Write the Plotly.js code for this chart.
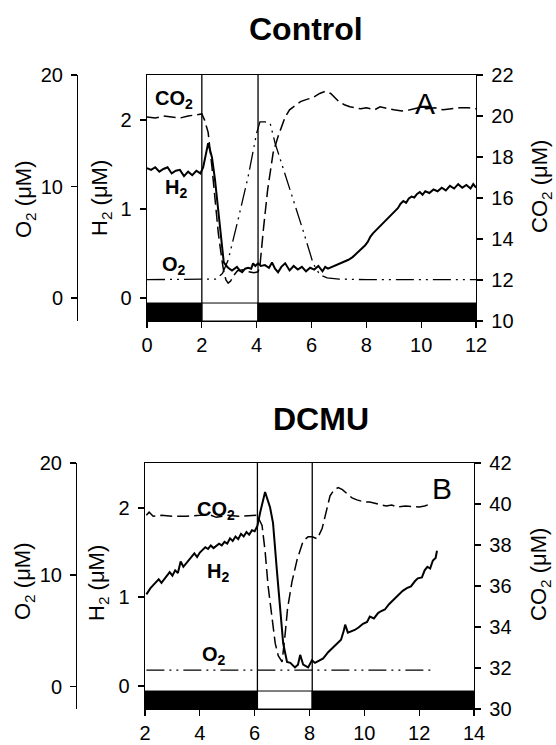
<!DOCTYPE html>
<html><head><meta charset="utf-8">
<script src="https://cdn.plot.ly/plotly-3.0.1.min.js"></script>
<style>html,body{margin:0;padding:0;background:#fff}#chart{width:556px;height:745px}</style>
</head><body><div id="chart"></div>
<script>
// ---------- Panel A (Control) ----------
const topH2X = [0,0.15,0.3,0.45,0.6,0.75,0.9,1.05,1.2,1.35,1.5,1.65,1.8,1.95,2.05,2.15,2.23,2.3,2.37,2.48,2.6,2.73,2.8,2.9,2.96,3.1,3.2,3.28,3.38,3.47,3.58,3.69,3.8,3.87,3.95,4.05,4.15,4.3,4.45,4.56,4.67,4.78,4.9,5.04,5.2,5.35,5.5,5.65,5.8,5.95,6.1,6.25,6.4,6.5,6.6,6.75,6.9,7.05,7.2,7.35,7.5,7.65,7.8,7.95,8.05,8.15,8.25,8.35,8.45,8.55,8.65,8.75,8.85,8.95,9.05,9.15,9.25,9.35,9.45,9.55,9.65,9.75,9.85,9.95,10.05,10.15,10.3,10.45,10.6,10.75,10.9,11.05,11.2,11.35,11.5,11.65,11.8,11.9,12.0];
const topH2 = [1.46,1.44,1.47,1.42,1.45,1.47,1.40,1.43,1.44,1.37,1.42,1.38,1.43,1.40,1.47,1.62,1.74,1.66,1.58,1.33,0.95,0.57,0.40,0.36,0.34,0.31,0.33,0.35,0.31,0.29,0.33,0.34,0.33,0.39,0.36,0.39,0.36,0.37,0.34,0.40,0.33,0.29,0.35,0.39,0.31,0.36,0.32,0.35,0.30,0.34,0.32,0.36,0.30,0.35,0.33,0.35,0.37,0.39,0.41,0.43,0.46,0.50,0.54,0.59,0.63,0.69,0.73,0.76,0.79,0.83,0.86,0.88,0.92,0.95,0.98,1.01,1.06,1.09,1.07,1.12,1.14,1.13,1.17,1.19,1.16,1.20,1.18,1.22,1.20,1.24,1.21,1.26,1.23,1.28,1.24,1.27,1.23,1.28,1.24];

const topCO2X = [0,0.3,0.6,0.9,1.2,1.5,1.8,2.0,2.1,2.23,2.37,2.48,2.6,2.73,2.8,2.88,2.96,3.05,3.15,3.3,3.5,3.7,3.9,4.05,4.12,4.24,4.4,4.6,4.78,5.04,5.2,5.4,5.6,5.8,6.06,6.3,6.5,6.7,6.86,7.0,7.2,7.4,7.6,7.8,8.0,8.3,8.5,8.8,9.0,9.3,9.6,9.9,10.2,10.5,10.8,11.1,11.4,11.7,12.0];
const topCO2 = [19.95,19.9,20.0,19.95,19.9,20.0,20.05,20.1,19.8,19.2,17.5,15.9,14.3,13.0,12.4,12.0,11.85,11.95,12.2,12.45,12.5,12.4,12.35,12.4,12.7,14.4,16.4,18.2,19.0,19.95,20.3,20.5,20.7,20.8,20.9,21.1,21.2,21.1,20.9,20.7,20.55,20.45,20.4,20.35,20.4,20.3,20.45,20.35,20.3,20.25,20.3,20.4,20.35,20.4,20.3,20.35,20.4,20.4,20.35];

const topO2X = [0,1.0,2.0,2.5,2.75,2.96,3.32,3.69,4.0,4.12,4.3,4.49,4.67,4.96,5.3,5.7,6.06,6.3,6.57,7.0,8.0,9.0,10.0,11.0,12.0];
const topO2 = [1.65,1.65,1.65,1.7,2.2,3.4,7.0,10.9,14.8,15.8,15.8,15.7,13.9,11.7,9.0,6.0,3.1,2.1,1.8,1.7,1.65,1.65,1.65,1.65,1.65];

const topPeriodStart = [0, 2, 4.05];
const topPeriodEnd   = [2, 4.05, 12];
const topPeriodDark  = [true, false, true];

// ---------- Panel B (DCMU) ----------
const botH2X = [2.05,2.2,2.35,2.5,2.6,2.75,2.9,3.0,3.1,3.2,3.3,3.4,3.5,3.6,3.7,3.8,3.9,4.0,4.1,4.2,4.3,4.4,4.5,4.6,4.7,4.8,4.9,5.0,5.1,5.2,5.3,5.4,5.5,5.6,5.7,5.8,5.9,6.0,6.1,6.2,6.38,6.56,6.67,6.81,6.93,7.04,7.18,7.3,7.47,7.58,7.66,7.77,7.95,8.09,8.2,8.35,8.5,8.68,8.85,9.0,9.15,9.25,9.3,9.4,9.5,9.65,9.8,9.95,10.1,10.2,10.35,10.5,10.6,10.75,10.9,11.0,11.15,11.3,11.4,11.55,11.7,11.85,11.95,12.1,12.2,12.3,12.4,12.5,12.6,12.65];
const botH2 = [1.03,1.10,1.15,1.20,1.16,1.22,1.28,1.24,1.30,1.27,1.40,1.34,1.38,1.42,1.46,1.49,1.45,1.50,1.53,1.56,1.54,1.58,1.55,1.57,1.60,1.58,1.62,1.60,1.66,1.63,1.68,1.65,1.71,1.68,1.73,1.70,1.75,1.74,1.80,1.95,2.18,2.01,1.83,1.30,0.85,0.48,0.27,0.26,0.21,0.24,0.35,0.24,0.21,0.29,0.26,0.29,0.31,0.38,0.43,0.48,0.52,0.62,0.69,0.60,0.61,0.63,0.66,0.70,0.72,0.78,0.76,0.82,0.84,0.86,0.92,0.95,0.99,1.03,1.07,1.10,1.12,1.18,1.21,1.22,1.30,1.34,1.32,1.41,1.44,1.52];

const botCO2X = [2.05,2.15,2.3,2.6,3.0,3.5,4.0,4.3,4.6,5.0,5.4,5.8,6.09,6.27,6.38,6.49,6.64,6.75,6.86,7.0,7.1,7.2,7.36,7.55,7.77,7.95,8.1,8.28,8.46,8.6,8.75,8.9,9.05,9.2,9.37,9.55,9.73,10.0,10.2,10.5,10.8,11.0,11.2,11.5,11.8,12.0,12.2,12.4];
const botCO2 = [39.45,39.6,39.4,39.45,39.4,39.4,39.45,39.5,39.35,39.45,39.4,39.45,39.45,38.95,37.7,36.0,34.4,33.2,32.6,32.3,33.5,34.9,36.2,37.3,38.2,38.4,38.4,38.3,38.8,39.6,40.4,40.7,40.8,40.7,40.5,40.3,40.2,40.1,40.1,40.0,39.9,39.95,39.85,39.9,39.85,39.85,39.9,40.0];

const botO2X = [2.05,4.0,6.0,8.0,10.0,12.5];
const botO2 = [1.5,1.5,1.5,1.5,1.5,1.5];

const botPeriodStart = [2, 6.1, 8.1];
const botPeriodEnd   = [6.1, 8.1, 14];
const botPeriodDark  = [true, false, true];

// ---------- styling ----------
const FONT = 'Liberation Sans, Arial, Helvetica, sans-serif';
const TICKSIZE = 20;
const h2Style  = {color:'#000', width:2};
const co2Style = {color:'#000', width:1.5, dash:'12px,5px'};
const o2Style  = {color:'#000', width:1.3, dash:'18px,5px,2px,5px,2px,5px'};

const traces = [
  {x: topH2X, y: topH2, xaxis:'x', yaxis:'y', mode:'lines', line:h2Style, name:'H2'},
  {x: topCO2X, y: topCO2, xaxis:'x', yaxis:'y2', mode:'lines', line:co2Style, name:'CO2'},
  {x: topO2X, y: topO2, xaxis:'x', yaxis:'y3', mode:'lines', line:o2Style, name:'O2'},
  {x: botH2X, y: botH2, xaxis:'x2', yaxis:'y4', mode:'lines', line:h2Style, name:'H2'},
  {x: botCO2X, y: botCO2, xaxis:'x2', yaxis:'y5', mode:'lines', line:co2Style, name:'CO2'},
  {x: botO2X, y: botO2, xaxis:'x2', yaxis:'y6', mode:'lines', line:o2Style, name:'O2'}
];

const axBase = {
  showgrid:false, zeroline:false, showline:true, linecolor:'#000', linewidth:1.3,
  ticks:'outside', ticklen:6, tickwidth:1.2, tickcolor:'#000',
  tickfont:{family:FONT, size:TICKSIZE, color:'#000'}, ticklabelstandoff:4
};
function ax(o){ return Object.assign({}, axBase, o); }

const H2RANGE = [-0.258, 2.506];
const BAR_TOP = -0.056;

const layout = {
  width:556, height:745, margin:{l:0,r:0,t:0,b:0},
  paper_bgcolor:'#fff', plot_bgcolor:'rgba(0,0,0,0)', showlegend:false,
  font:{family:FONT, color:'#000'},
  xaxis: ax({domain:[147/556, 476/556], anchor:'y', range:[0,12], tickvals:[0,2,4,6,8,10,12], mirror:true, ticklabelstandoff:0}),
  yaxis: ax({domain:[1-321/745, 1-75/745], anchor:'x', range:H2RANGE, tickvals:[0,1,2], mirror:true}),
  yaxis2: ax({overlaying:'y', side:'right', anchor:'x', range:[10,22], tickvals:[10,12,14,16,18,20,22]}),
  yaxis3: ax({overlaying:'y', side:'left', anchor:'free', position:77/556, range:[-2.06,20], tickvals:[0,10,20]}),
  xaxis2: ax({domain:[145/556, 474/556], anchor:'y4', range:[2,14], tickvals:[2,4,6,8,10,12,14], mirror:true, ticklabelstandoff:0}),
  yaxis4: ax({domain:[1-709/745, 1-463/745], anchor:'x2', range:H2RANGE, tickvals:[0,1,2], mirror:true}),
  yaxis5: ax({overlaying:'y4', side:'right', anchor:'x2', range:[30,42], tickvals:[30,32,34,36,38,40,42]}),
  yaxis6: ax({overlaying:'y4', side:'left', anchor:'free', position:76/556, range:[-1.98,20], tickvals:[0,10,20]}),
  shapes: [], annotations: []
};

function addPeriods(starts, ends, dark, xr, yr){
  for (let i=0;i<starts.length;i++){
    layout.shapes.push({type:'rect', xref:xr, yref:yr, x0:starts[i], x1:ends[i], y0:H2RANGE[0], y1:BAR_TOP,
      fillcolor: dark[i] ? '#000' : '#fff', line:{color:'#000', width:1}, layer:'above'});
  }
  for (let i=1;i<starts.length;i++){
    layout.shapes.push({type:'line', xref:xr, yref:yr+' domain', x0:starts[i], x1:starts[i], y0:0, y1:1,
      line:{color:'#000', width:1.3}, layer:'above'});
  }
}
addPeriods(topPeriodStart, topPeriodEnd, topPeriodDark, 'x', 'y');
addPeriods(botPeriodStart, botPeriodEnd, botPeriodDark, 'x2', 'y4');

function ann(text, px, py, size, opts){
  layout.annotations.push(Object.assign({text:text, xref:'paper', yref:'paper', x:px/556, y:1-py/745,
    showarrow:false, xanchor:'center', yanchor:'middle', font:{family:FONT, size:size, color:'#000'}}, opts||{}));
}
// panel titles
ann('<b>Control</b>', 306, 29, 32);
ann('<b>DCMU</b>', 321, 419, 32);
ann('A', 425, 104, 30);
ann('B', 442, 488, 30);
// series labels
ann('<b>CO<sub>2</sub></b>', 153, 99, 20, {xanchor:'left'});
ann('<b>H<sub>2</sub></b>', 163, 188, 20, {xanchor:'left'});
ann('<b>O<sub>2</sub></b>', 160, 265, 20, {xanchor:'left'});
ann('<b>CO<sub>2</sub></b>', 195, 510, 20, {xanchor:'left'});
ann('<b>H<sub>2</sub></b>', 205, 572, 20, {xanchor:'left'});
ann('<b>O<sub>2</sub></b>', 200, 655, 20, {xanchor:'left'});
// axis titles
ann('O<sub>2</sub> (μM)', 25, 200, 22, {textangle:-90});
ann('H<sub>2</sub> (μM)', 101, 198, 22, {textangle:-90});
ann('CO<sub>2</sub> (μM)', 541, 187, 22, {textangle:-90});
ann('O<sub>2</sub> (μM)', 24, 582, 22, {textangle:-90});
ann('H<sub>2</sub> (μM)', 98, 583, 22, {textangle:-90});
ann('CO<sub>2</sub> (μM)', 540, 575, 22, {textangle:-90});

Plotly.newPlot('chart', traces, layout, {staticPlot:true, displayModeBar:false});
</script></body></html>
